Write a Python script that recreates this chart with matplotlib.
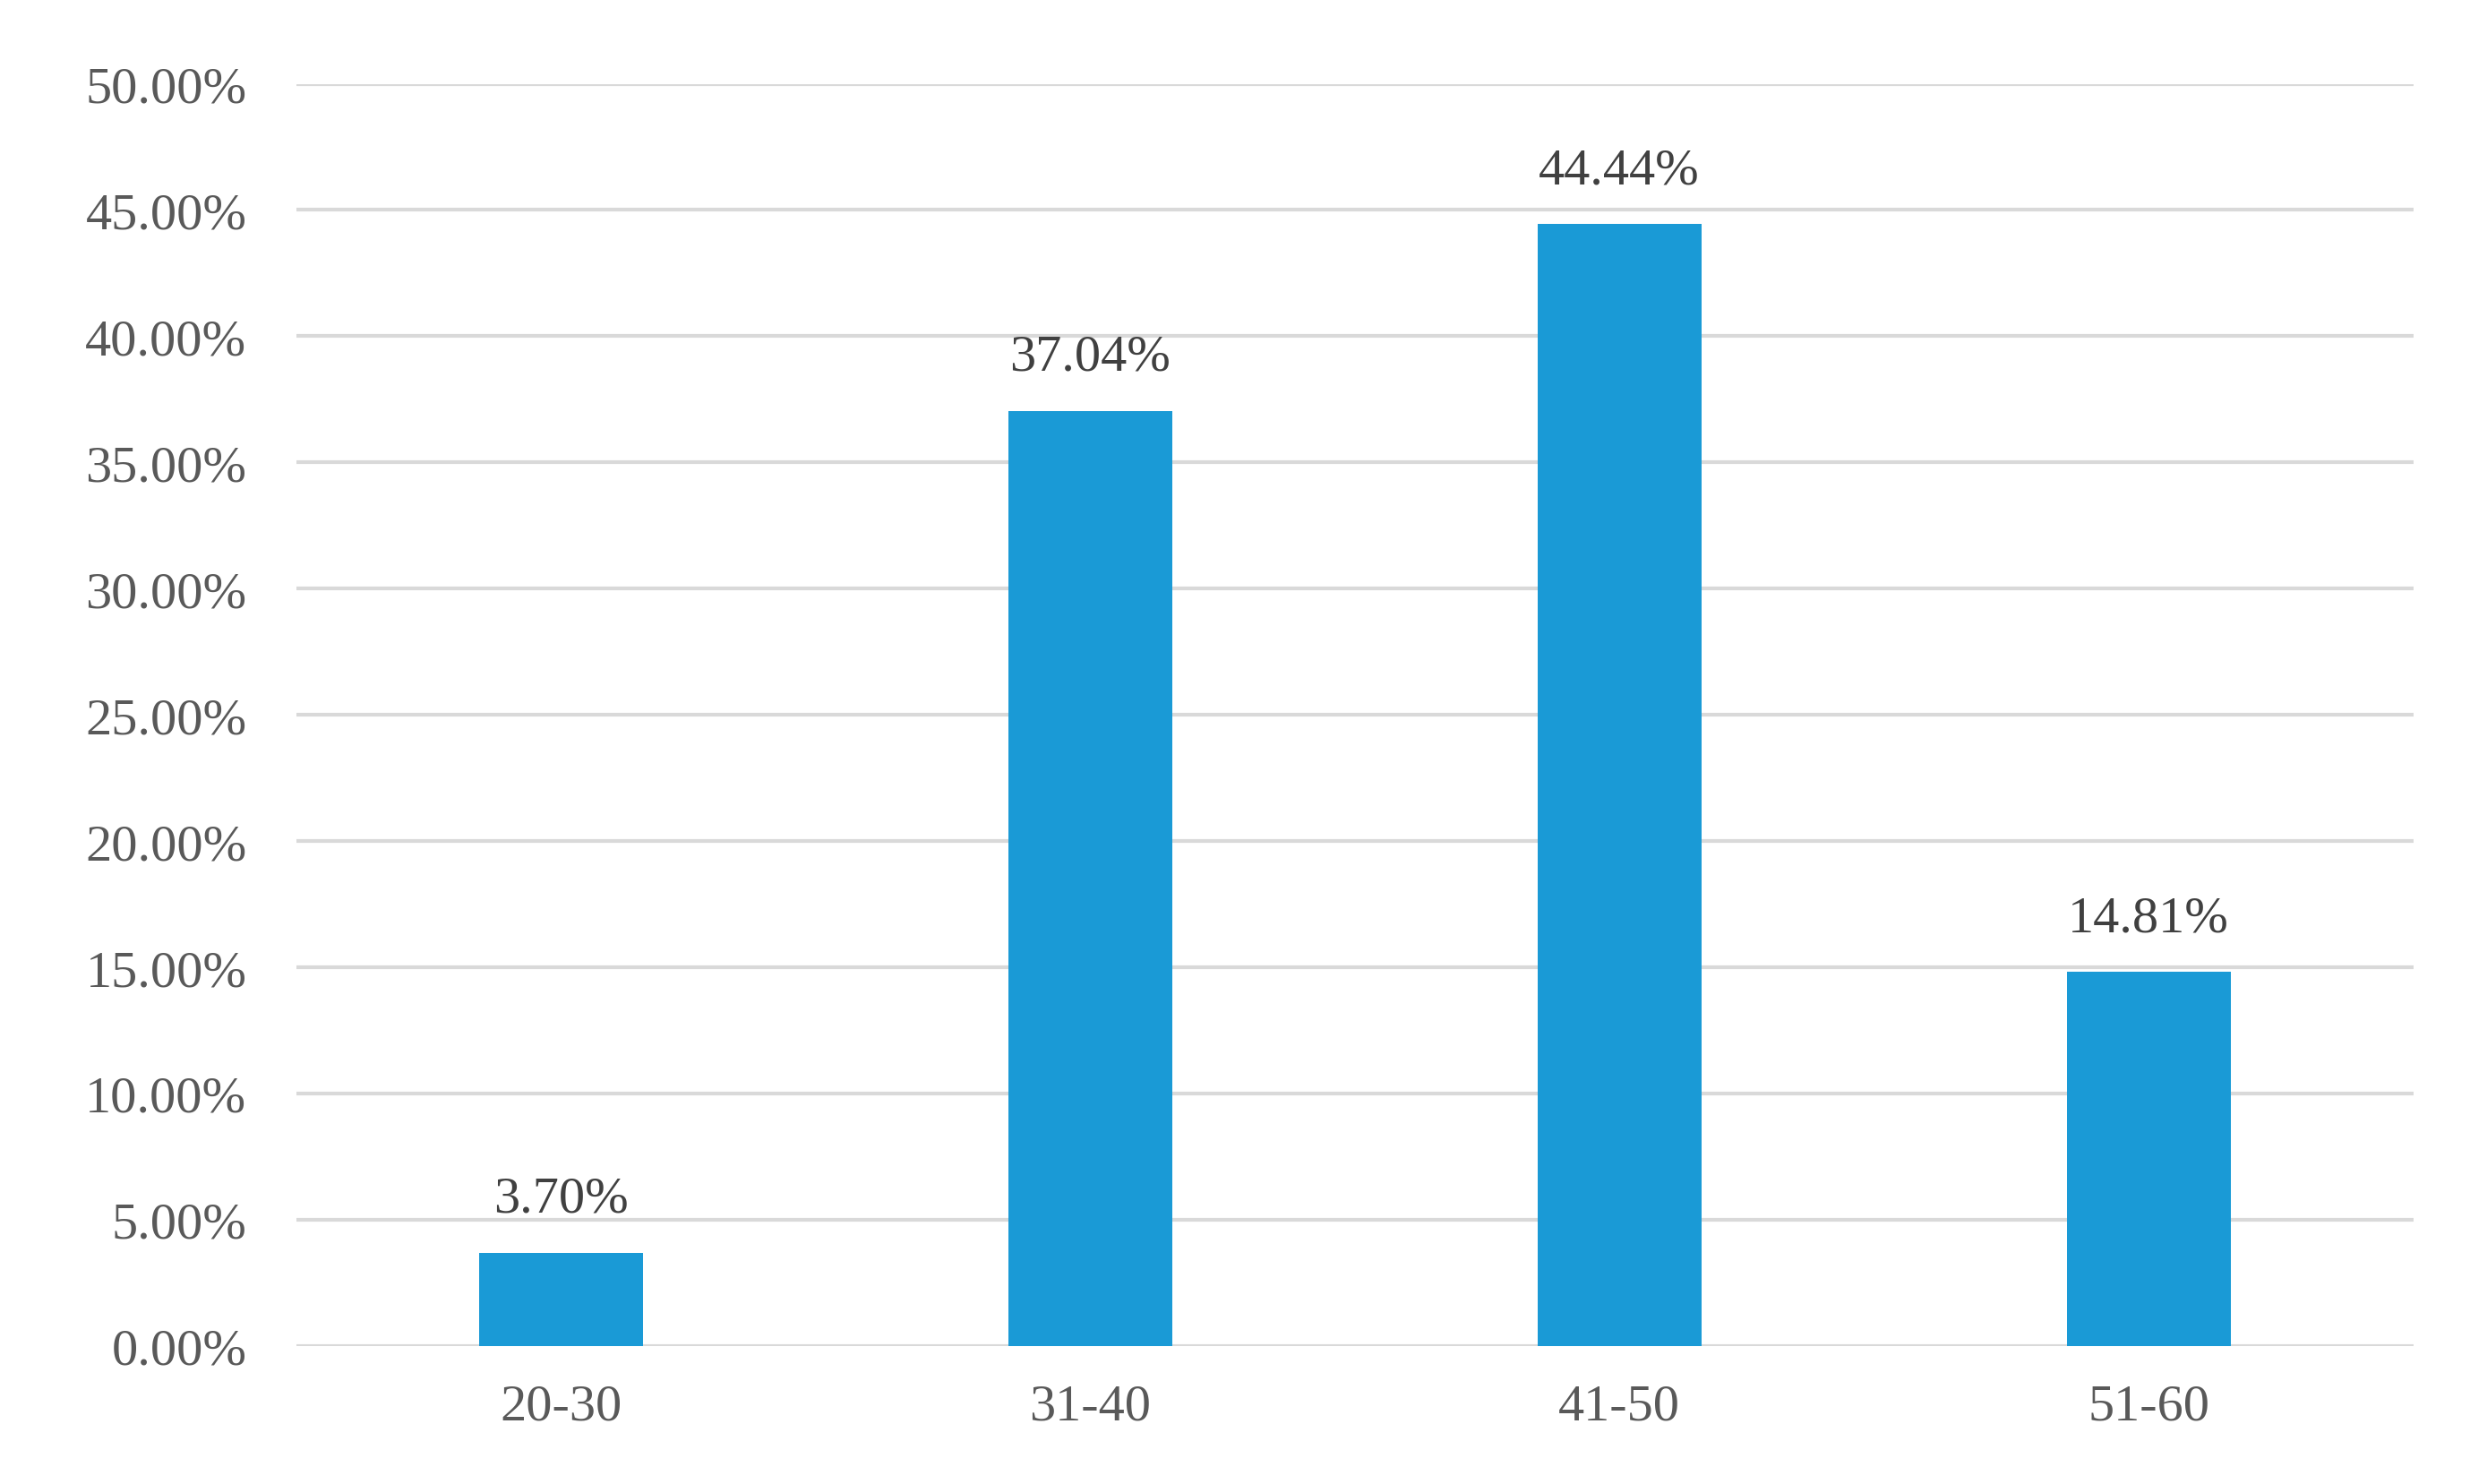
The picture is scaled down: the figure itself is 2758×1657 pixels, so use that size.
import matplotlib
matplotlib.use("Agg")
import matplotlib.pyplot as plt

categories = ["20-30", "31-40", "41-50", "51-60"]
values = [3.70, 37.04, 44.44, 14.81]
labels = ["3.70%", "37.04%", "44.44%", "14.81%"]
yticks = [0, 5, 10, 15, 20, 25, 30, 35, 40, 45, 50]

plt.rcParams['font.family'] = ['Liberation Serif', 'DejaVu Serif']
fig = plt.figure(figsize=(27.58, 16.58), dpi=100)
ax = fig.add_axes([0.12, 0.093, 0.857, 0.85])
x = range(len(categories))
ax.bar(x, values, width=0.31, color="#1a9ad6", zorder=3)
for i, (v, l) in enumerate(zip(values, labels)):
    ax.text(i, v + 1.2, l, ha="center", va="bottom", fontsize=42, color="#404040")
ax.set_xlim(-0.5, 3.5)
ax.set_ylim(0, 50)
ax.set_yticks(yticks)
ax.set_yticklabels([f"{t:.2f}%" for t in yticks])
ax.set_xticks(list(x))
ax.set_xticklabels(categories)
ax.tick_params(axis="both", length=0, labelsize=42, labelcolor="#595959")
ax.tick_params(axis="y", pad=40)
ax.tick_params(axis="x", pad=30)
ax.grid(axis="y", color="#d9d9d9", linewidth=3, zorder=0)
for s in ax.spines.values():
    s.set_visible(False)
fig.savefig("out.png")
